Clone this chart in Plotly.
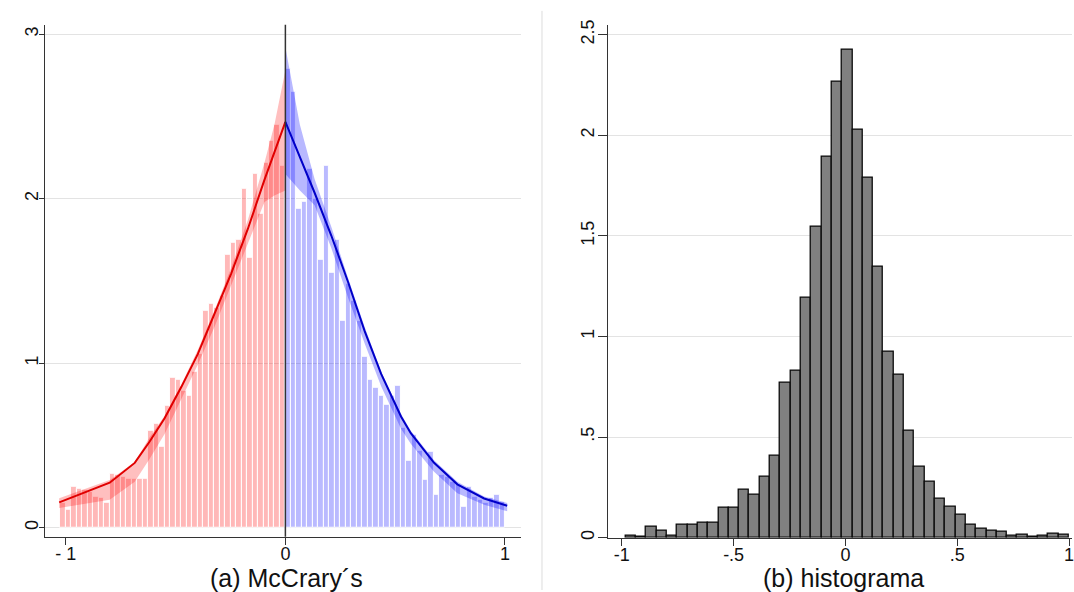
import plotly.graph_objects as go

# ---------------- Panel (a): McCrary density test ----------------
red_bin_start = -1.025
blue_bin_start = 0.0
mc_bin_width = 0.025
red_bar_heights = [0.15, 0.11, 0.25, 0.24, 0.23, 0.22, 0.19, 0.18, 0.15, 0.33,
                   0.32, 0.31, 0.30, 0.30, 0.30, 0.30, 0.59, 0.63, 0.49, 0.74,
                   0.91, 0.90, 0.83, 0.80, 0.95, 1.06, 1.32, 1.36, 1.34, 1.41,
                   1.66, 1.73, 1.75, 2.06, 1.64, 2.15, 1.91, 2.22, 2.35, 2.45,
                   2.20]
blue_bar_heights = [2.79, 2.65, 1.94, 1.98, 2.18, 2.00, 1.63, 2.20, 1.55, 1.75,
                    1.26, 1.48, 1.38, 1.26, 1.04, 0.90, 0.85, 0.80, 0.75, 0.80,
                    0.86, 0.61, 0.41, 0.565, 0.47, 0.29, 0.46, 0.20, 0.32, 0.31,
                    0.28, 0.26, 0.13, 0.25, 0.19, 0.17, 0.15, 0.18, 0.20, 0.16]

red_fit_x = [-1.03, -0.80, -0.686, -0.618, -0.55, -0.474, -0.399, -0.323, -0.247, -0.171, -0.095, 0.0]
red_fit_y = [0.154, 0.274, 0.394, 0.524, 0.665, 0.855, 1.055, 1.295, 1.545, 1.816, 2.116, 2.467]
blue_fit_x = [0.0, 0.133, 0.209, 0.285, 0.361, 0.436, 0.527, 0.571, 0.677, 0.783, 0.905, 1.01]
blue_fit_y = [2.467, 2.036, 1.776, 1.495, 1.195, 0.935, 0.675, 0.575, 0.395, 0.264, 0.178, 0.134]

red_ci_x = [-1.03, -0.80, -0.686, -0.618, -0.55, -0.474, -0.399, -0.323, -0.247, -0.171, -0.095, -0.05, 0.0]
red_ci_lo = [0.12, 0.17, 0.28, 0.42, 0.57, 0.78, 0.99, 1.22, 1.47, 1.72, 1.98, 2.02, 2.05]
red_ci_hi = [0.18, 0.29, 0.40, 0.55, 0.68, 0.87, 1.08, 1.32, 1.58, 1.87, 2.22, 2.45, 2.78]
blue_ci_x = [0.0, 0.066, 0.133, 0.209, 0.285, 0.361, 0.436, 0.527, 0.571, 0.677, 0.783, 0.905, 1.01]
blue_ci_lo = [2.15, 2.05, 1.96, 1.70, 1.40, 1.12, 0.86, 0.60, 0.51, 0.34, 0.21, 0.14, 0.10]
blue_ci_hi = [2.92, 2.45, 2.12, 1.83, 1.52, 1.22, 0.95, 0.69, 0.59, 0.41, 0.28, 0.19, 0.15]

mc_yticks = [0, 1, 2, 3]
mc_xticks = [-1, 0, 1]
mc_xticklabels = ["- 1", "0", "1"]

# ---------------- Panel (b): histogram ----------------
hist_bin_start = -0.983
hist_bin_width = 0.0461
hist_heights = [0.011, 0.005, 0.052, 0.033, 0.011, 0.064, 0.063, 0.072, 0.074, 0.147,
                0.148, 0.239, 0.211, 0.305, 0.409, 0.770, 0.827, 1.190, 1.547, 1.894,
                2.268, 2.423, 2.028, 1.788, 1.346, 0.923, 0.807, 0.532, 0.352, 0.278,
                0.191, 0.151, 0.116, 0.064, 0.044, 0.036, 0.028, 0.007, 0.015, 0.002,
                0.008, 0.018, 0.013]
h_yticks = [0, 0.5, 1, 1.5, 2, 2.5]
h_yticklabels = ["0", ".5", "1", "1.5", "2", "2.5"]
h_xticks = [-1, -0.5, 0, 0.5, 1]
h_xticklabels = ["-1", "-.5", "0", ".5", "1"]

titles = ["(a) McCrary´s", "(b) histograma"]

# ---------------- Build ----------------
red_x = [red_bin_start + mc_bin_width * (i + 0.5) for i in range(len(red_bar_heights))]
blue_x = [blue_bin_start + mc_bin_width * (i + 0.5) for i in range(len(blue_bar_heights))]
hist_x = [hist_bin_start + hist_bin_width * (i + 0.5) for i in range(len(hist_heights))]

fig = go.Figure()
fig.add_trace(go.Bar(x=red_x, y=red_bar_heights, width=mc_bin_width,
                     marker=dict(color="rgba(255,0,0,0.28)", line=dict(color="white", width=1)),
                     xaxis="x", yaxis="y", showlegend=False))
fig.add_trace(go.Bar(x=blue_x, y=blue_bar_heights, width=mc_bin_width,
                     marker=dict(color="rgba(0,0,255,0.27)", line=dict(color="white", width=1)),
                     xaxis="x", yaxis="y", showlegend=False))
# CI bands
fig.add_trace(go.Scatter(x=red_ci_x, y=red_ci_lo, mode="lines", line=dict(width=0),
                         xaxis="x", yaxis="y", showlegend=False, hoverinfo="skip"))
fig.add_trace(go.Scatter(x=red_ci_x, y=red_ci_hi, mode="lines", line=dict(width=0),
                         fill="tonexty", fillcolor="rgba(255,0,0,0.25)",
                         xaxis="x", yaxis="y", showlegend=False, hoverinfo="skip"))
fig.add_trace(go.Scatter(x=blue_ci_x, y=blue_ci_lo, mode="lines", line=dict(width=0),
                         xaxis="x", yaxis="y", showlegend=False, hoverinfo="skip"))
fig.add_trace(go.Scatter(x=blue_ci_x, y=blue_ci_hi, mode="lines", line=dict(width=0),
                         fill="tonexty", fillcolor="rgba(0,0,255,0.28)",
                         xaxis="x", yaxis="y", showlegend=False, hoverinfo="skip"))
# fitted lines
fig.add_trace(go.Scatter(x=red_fit_x, y=red_fit_y, mode="lines", line=dict(color="#e00000", width=2),
                         xaxis="x", yaxis="y", showlegend=False))
fig.add_trace(go.Scatter(x=blue_fit_x, y=blue_fit_y, mode="lines", line=dict(color="#0000c8", width=2),
                         xaxis="x", yaxis="y", showlegend=False))
# histogram
fig.add_trace(go.Bar(x=hist_x, y=hist_heights, width=hist_bin_width,
                     marker=dict(color="#808080", line=dict(color="#0a0a0a", width=1.3)),
                     xaxis="x2", yaxis="y2", showlegend=False))

W, H = 1074, 592
font_family = "Liberation Sans, Arial, sans-serif"
tickfont = dict(family=font_family, size=18, color="#111")

common_axis = dict(showline=True, linecolor="#333", linewidth=1.2, ticks="outside",
                   tickcolor="#333", tickfont=tickfont, zeroline=False,
                   ticklabeloverflow="allow")

fig.update_layout(
    width=W, height=H,
    margin=dict(l=0, r=0, t=0, b=0),
    paper_bgcolor="white", plot_bgcolor="white",
    barmode="overlay", bargap=0,
    xaxis=dict(domain=[45 / W, 522 / W], range=[-1.095, 1.073], tickvals=mc_xticks,
               ticktext=mc_xticklabels, showgrid=False, ticklen=7, anchor="y",
               ticklabelstandoff=-6, **common_axis),
    yaxis=dict(domain=[1 - 538 / H, 1 - 20 / H], range=[-0.054, 3.057], tickvals=mc_yticks,
               showgrid=True, gridcolor="#e3e3e3", gridwidth=1, ticklen=5, tickangle=-90,
               anchor="x", ticklabelstandoff=-6, **common_axis),
    xaxis2=dict(domain=[609 / W, 1.0], range=[-1.0625, 1.0134], tickvals=h_xticks,
                ticktext=h_xticklabels, showgrid=False, ticklen=7, anchor="y2",
                ticklabelstandoff=-6, **common_axis),
    yaxis2=dict(domain=[1 - 539 / H, 1 - 20 / H], range=[0, 2.549], tickvals=h_yticks,
                ticktext=h_yticklabels, showgrid=True, gridcolor="#e3e3e3", gridwidth=1,
                ticklen=9, tickangle=-90, anchor="x2", ticklabelstandoff=-3, **common_axis),
    shapes=[
        dict(type="line", xref="x", yref="y domain", x0=0, x1=0, y0=0, y1=1,
             line=dict(color="#333", width=1.5), layer="above"),
        dict(type="line", xref="paper", yref="paper", x0=543 / W, x1=543 / W, y0=0, y1=0.99,
             line=dict(color="#dcdcdc", width=1)),
    ],
    annotations=[
        dict(text=titles[0], xref="paper", yref="paper", x=287 / W, y=1 - 580 / H,
             xanchor="center", yanchor="middle", showarrow=False,
             font=dict(family=font_family, size=25, color="#111")),
        dict(text=titles[1], xref="paper", yref="paper", x=845 / W, y=1 - 580 / H,
             xanchor="center", yanchor="middle", showarrow=False,
             font=dict(family=font_family, size=25, color="#111")),
    ],
)

fig.write_html(
    "out.html",
    config={"displayModeBar": False},
    post_script="document.body.style.margin='0px';document.body.style.overflow='hidden';",
)
